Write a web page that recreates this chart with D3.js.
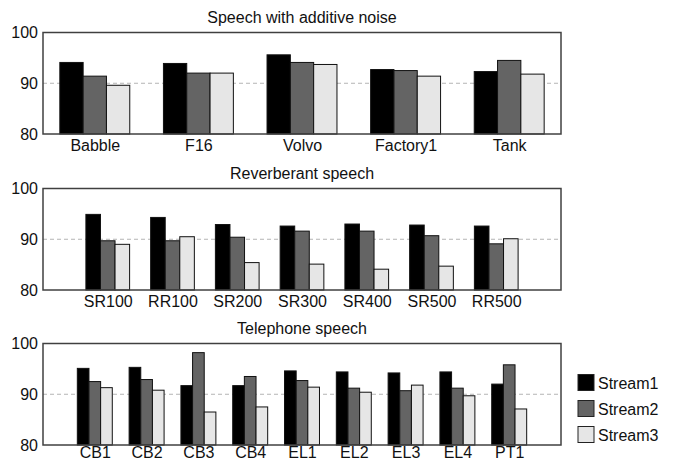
<!DOCTYPE html>
<html>
<head>
<meta charset="utf-8">
<script src="https://cdn.jsdelivr.net/npm/d3@7"></script>
<style>
  html, body { margin: 0; padding: 0; background: #fff; }
  svg { display: block; font-family: "Liberation Sans", Arial, sans-serif; }
</style>
</head>
<body>
<svg id="chart" width="674" height="462"></svg>
<script>
const seriesNames = ["Stream1", "Stream2", "Stream3"];
const seriesColors = ["#000000", "#646464", "#e6e6e6"];
const yTicks = [80, 90, 100];

const noiseCategories = ["Babble", "F16", "Volvo", "Factory1", "Tank"];
const noiseStream1 = [94.1, 93.9, 95.6, 92.7, 92.3];
const noiseStream2 = [91.4, 92.0, 94.1, 92.5, 94.5];
const noiseStream3 = [89.6, 92.0, 93.7, 91.4, 91.8];

const reverbCategories = ["SR100", "RR100", "SR200", "SR300", "SR400", "SR500", "RR500"];
const reverbStream1 = [94.9, 94.3, 92.9, 92.6, 93.0, 92.8, 92.6];
const reverbStream2 = [89.7, 89.7, 90.4, 91.6, 91.6, 90.7, 89.1];
const reverbStream3 = [89.0, 90.5, 85.4, 85.1, 84.1, 84.7, 90.1];

const phoneCategories = ["CB1", "CB2", "CB3", "CB4", "EL1", "EL2", "EL3", "EL4", "PT1"];
const phoneStream1 = [95.1, 95.3, 91.7, 91.7, 94.6, 94.4, 94.2, 94.4, 92.0];
const phoneStream2 = [92.5, 92.9, 98.2, 93.5, 92.7, 91.2, 90.7, 91.2, 95.8];
const phoneStream3 = [91.3, 90.8, 86.5, 87.5, 91.4, 90.4, 91.8, 89.7, 87.1];

const panels = [
  { title: "Speech with additive noise", cats: noiseCategories,
    series: [noiseStream1, noiseStream2, noiseStream3],
    xdom: [0.5, noiseCategories.length + 0.5], top: 32.5, bottom: 134, titleY: 23, labelY: 151 },
  { title: "Reverberant speech", cats: reverbCategories,
    series: [reverbStream1, reverbStream2, reverbStream3],
    xdom: [0, reverbCategories.length + 1], top: 188.5, bottom: 290, titleY: 178.5, labelY: 307 },
  { title: "Telephone speech", cats: phoneCategories,
    series: [phoneStream1, phoneStream2, phoneStream3],
    xdom: [0, phoneCategories.length + 1], top: 343.5, bottom: 445, titleY: 333.5, labelY: 458 }
];

const svg = d3.select("#chart");
const left = 43, right = 561;
const groupFrac = 0.675;

panels.forEach(p => {
  const x = d3.scaleLinear().domain(p.xdom).range([left, right]);
  const y = d3.scaleLinear().domain([80, 100]).range([p.bottom, p.top]);
  const g = svg.append("g");

  // title
  g.append("text")
    .attr("x", (left + right) / 2).attr("y", p.titleY)
    .attr("text-anchor", "middle").attr("font-size", 16).attr("fill", "#111")
    .text(p.title);

  // dashed grid at 90
  g.append("line")
    .attr("x1", left).attr("x2", right)
    .attr("y1", y(90)).attr("y2", y(90))
    .attr("stroke", "#b4b4b4").attr("stroke-width", 1)
    .attr("stroke-dasharray", "4,3");

  const barW = groupFrac / 3;
  p.series.forEach((vals, si) => {
    g.append("g").selectAll("rect")
      .data(vals)
      .join("rect")
      .attr("x", (d, i) => x(i + 1 + (si - 1.5) * barW))
      .attr("width", (d, i) => x(i + 1 + (si - 0.5) * barW) - x(i + 1 + (si - 1.5) * barW))
      .attr("y", d => y(d))
      .attr("height", d => y(80) - y(d))
      .attr("fill", seriesColors[si])
      .attr("stroke", "#111").attr("stroke-width", 1);
  });

  // frame
  g.append("rect")
    .attr("x", left).attr("y", p.top)
    .attr("width", right - left).attr("height", p.bottom - p.top)
    .attr("fill", "none").attr("stroke", "#404040").attr("stroke-width", 1.5);

  // y axis
  const ya = g.append("g").attr("transform", `translate(${left},0)`)
    .call(d3.axisLeft(y).tickValues(yTicks).tickSize(0).tickPadding(5).tickFormat(d3.format("d")));
  ya.select(".domain").remove();
  ya.selectAll("text").attr("font-size", 16).attr("font-family", "Liberation Sans, Arial, sans-serif").attr("fill", "#111");

  // x axis
  const xa = g.append("g").attr("transform", `translate(0,${p.bottom})`)
    .call(d3.axisBottom(x).tickValues(p.cats.map((c, i) => i + 1)).tickSize(0)
      .tickFormat((d) => p.cats[d - 1]));
  xa.select(".domain").remove();
  xa.selectAll("text").attr("y", null).attr("dy", null)
    .attr("transform", `translate(0,${p.labelY - p.bottom})`)
    .attr("font-size", 16).attr("font-family", "Liberation Sans, Arial, sans-serif").attr("fill", "#111");
});

// legend
const legend = svg.append("g");
const legendY = d3.scalePoint().domain(seriesNames).range([374.5, 426.5]);
seriesNames.forEach((name, i) => {
  legend.append("rect")
    .attr("x", 578).attr("y", legendY(name))
    .attr("width", 16).attr("height", 16)
    .attr("fill", seriesColors[i]).attr("stroke", "#222").attr("stroke-width", 1);
  legend.append("text")
    .attr("x", 598).attr("y", legendY(name) + 14.5)
    .attr("font-size", 16).attr("fill", "#111")
    .text(name);
});
</script>
</body>
</html>
